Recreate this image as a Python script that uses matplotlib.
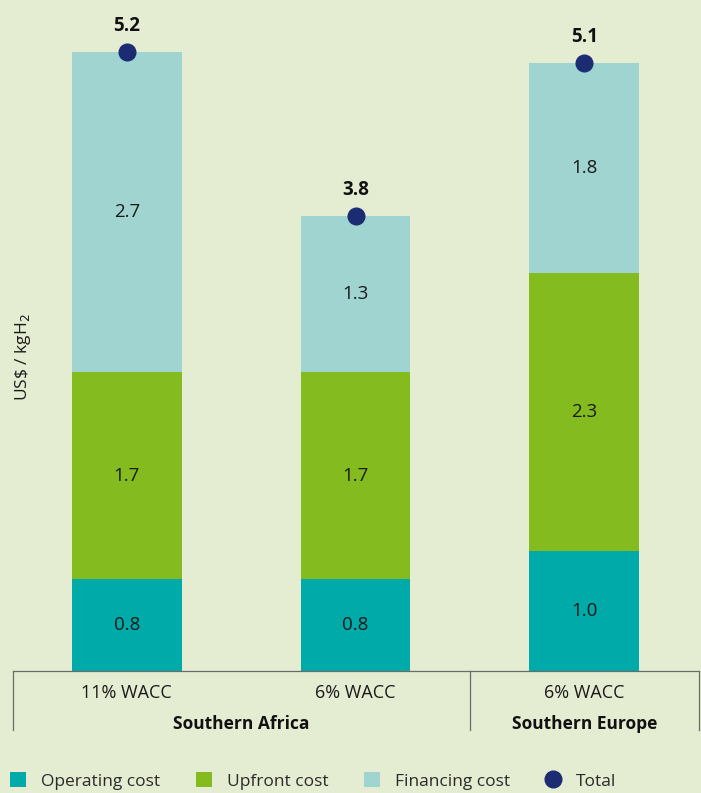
import numpy as np
import matplotlib
matplotlib.use("Agg")
from matplotlib import pyplot as plt
from matplotlib.lines import Line2D
from matplotlib.patches import Patch

plt.rcParams['font.family'] = ['Open Sans', 'DejaVu Sans']

# data (US$ / kgH2)
scenarios = ['11% WACC', '6% WACC', '6% WACC']
regions = ['Southern Africa', 'Southern Europe']
region_span = [(0, 1), (2, 2)]
operating = [0.77, 0.77, 1.01]
upfront = [1.74, 1.74, 2.33]
financing = [2.68, 1.31, 1.76]

series_names = ['Operating cost', 'Upfront cost', 'Financing cost']
colors = ['#00AAA8', '#84BC1F', '#9FD4D0']
dot_color = '#1B2C73'
bg = '#E4EDD2'
line_col = '#6B6B6B'

W, H = 701, 793
fig = plt.figure(figsize=(W / 100, H / 100), dpi=100, facecolor=bg)

# axes in pixel layout
left_px, right_px, base_px = 12.5, 698.7, 671
ax = fig.add_axes([left_px / W, (H - base_px) / H, (right_px - left_px) / W, base_px / H])
ax.set_facecolor(bg)
ax.set_xlim(-0.5, 2.5)
ax.set_ylim(0, base_px / 119.2)
for s in ax.spines.values():
    s.set_visible(False)
ax.set_xticks([])
ax.set_yticks([])

x = np.arange(len(scenarios))
width = 0.48
bottom = np.zeros(len(x))
for vals, col in zip([operating, upfront, financing], colors):
    vals = np.array(vals)
    ax.bar(x, vals, width, bottom=bottom, color=col, edgecolor='none')
    for xi, b, v in zip(x, bottom, vals):
        ax.text(xi, b + v / 2, f'{v:.1f}', ha='center', va='center', fontsize=13.5, color='#1a1a1a')
    bottom += vals

totals = bottom
ax.plot(x, totals, 'o', color=dot_color, ms=12, clip_on=False, zorder=5)
for xi, t in zip(x, totals):
    ax.annotate(f'{t:.1f}', (xi, t), xytext=(0, 26), textcoords='offset pixels',
                ha='center', va='center', fontsize=13.5, fontweight='bold', color='#111111')

# category axis box
trans = ax.get_xaxis_transform()
px = 1.0 / base_px  # one pixel in axes-y units
ax.plot([-0.5, 2.5], [0, 0], color=line_col, lw=0.9, transform=trans, clip_on=False)
for xv in [-0.5, 1.5, 2.5]:
    ax.plot([xv, xv], [0, -59 * px], color=line_col, lw=0.9, transform=trans, clip_on=False)
for xi, lab in zip(x, scenarios):
    ax.text(xi, -22 * px, lab, ha='center', va='center', fontsize=13, color='#1a1a1a', transform=trans)
for (a, b), reg in zip(region_span, regions):
    ax.text((a + b) / 2, -53 * px, reg, ha='center', va='center', fontsize=12.5,
            fontweight='bold', color='#111111', transform=trans)

fig.text(23 / W, 1 - 357 / H, r'US\$ / kgH$_2$', rotation=90, ha='center', va='center',
         fontsize=12.5, color='#1a1a1a')

handles = [Patch(facecolor=c, edgecolor='none') for c in colors]
handles.append(Line2D([], [], marker='o', color=dot_color, ls='none', ms=12))
fig.legend(handles, series_names + ['Total'], loc='center left', bbox_to_anchor=(10 / W, 1 - 781 / H),
           ncol=4, frameon=False, fontsize=12.5, handlelength=0.92, handleheight=0.92,
           handletextpad=0.86, columnspacing=2.05, borderpad=0, borderaxespad=0,
           labelcolor='#2a2a2a')

fig.savefig('out.png', dpi=100, facecolor=bg)
